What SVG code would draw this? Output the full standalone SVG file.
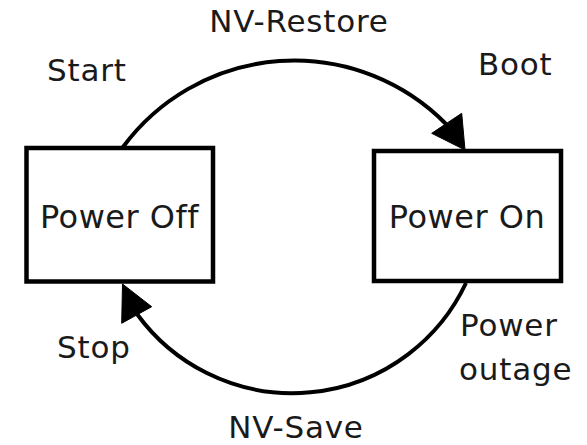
<svg xmlns="http://www.w3.org/2000/svg" width="587" height="445" viewBox="0 0 587 445">
  <style>
    .box { fill: #ffffff; stroke: #000000; stroke-width: 4.5; }
    .edge { fill: none; stroke: #000000; stroke-width: 4; }
    .head { fill: #000000; stroke: #000000; stroke-width: 1; stroke-linejoin: miter; }
    text { font-family: "DejaVu Sans", "Liberation Sans", sans-serif; fill: #1a1a1a; }
    .node-label { font-size: 32px; text-anchor: middle; letter-spacing: 0.5px; }
    .edge-label { font-size: 31px; letter-spacing: 0.8px; }
  </style>
  <rect width="587" height="445" fill="#ffffff"/>
  <g id="connectors">
    <g id="edge-restore">
      <path class="edge" d="M123,147 A213,213 0 0 1 446,124"/>
      <polygon class="head" points="465,150 431.7,133.3 461.7,113.3"/>
    </g>
    <g id="edge-save">
      <path class="edge" d="M466,283 A192,192 0 0 1 137,314"/>
      <polygon class="head" points="122.5,284 121.7,323.3 151.7,306.7"/>
    </g>
  </g>
  <g id="node-power-off">
    <rect class="box" x="26.5" y="148" width="186.5" height="133.5"/>
    <text class="node-label" x="119.5" y="227.5">Power Off</text>
  </g>
  <g id="node-power-on">
    <rect class="box" x="374" y="151" width="187" height="130"/>
    <text class="node-label" x="467" y="227.5">Power On</text>
  </g>
  <g id="labels">
    <text class="edge-label" x="299" y="32" text-anchor="middle">NV-Restore</text>
    <text class="edge-label" x="47" y="81">Start</text>
    <text class="edge-label" x="478" y="75">Boot</text>
    <text class="edge-label" x="57" y="358">Stop</text>
    <text class="edge-label" x="460" y="336">Power</text>
    <text class="edge-label" x="459" y="380">outage</text>
    <text class="edge-label" x="296" y="438" text-anchor="middle">NV-Save</text>
  </g>
</svg>
